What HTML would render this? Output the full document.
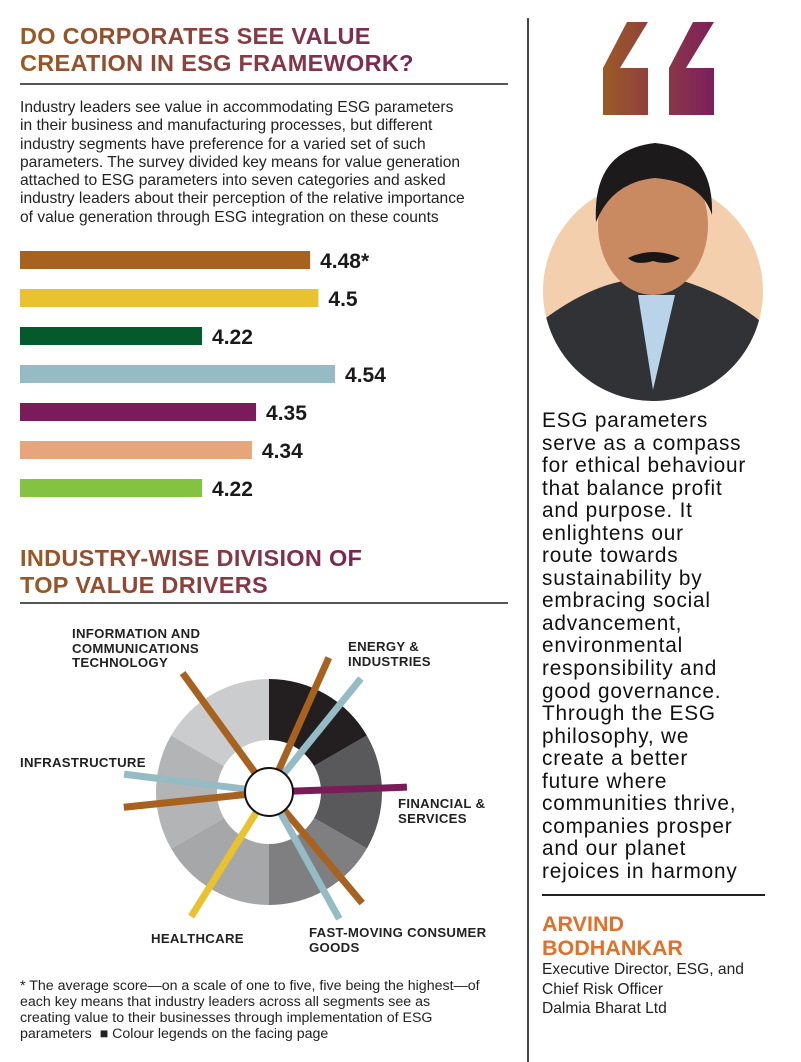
<!DOCTYPE html>
<html><head><meta charset="utf-8">
<style>
body{margin:0;width:801px;height:1062px;background:#fff;position:relative;overflow:hidden;font-family:"Liberation Sans",sans-serif;color:#1a1a1a}
.abs{position:absolute;white-space:nowrap}
.title{font-weight:bold;font-size:23.5px;line-height:27px;letter-spacing:0.3px;background:linear-gradient(90deg,#9a5a22,#7a2458);-webkit-background-clip:text;background-clip:text;color:transparent}
.para{font-size:15.6px;line-height:18.3px;color:#222}
.lab{font-weight:bold;font-size:13.2px;line-height:14.5px;letter-spacing:0.3px;color:#222}
.quote{font-size:20.8px;line-height:22.55px;color:#111;letter-spacing:0.8px}
</style></head><body>
<div class="abs title" style="left:20px;top:23px">DO CORPORATES SEE VALUE<br>CREATION IN ESG FRAMEWORK?</div>
<div class="abs" style="left:20px;top:83px;width:488px;height:2px;background:#555"></div>
<div class="abs para" style="left:20px;top:99px">Industry leaders see value in accommodating ESG parameters<br>in their business and manufacturing processes, but different<br>industry segments have preference for a varied set of such<br>parameters. The survey divided key means for value generation<br>attached to ESG parameters into seven categories and asked<br>industry leaders about their perception of the relative importance<br>of value generation through ESG integration on these counts</div>

<svg class="abs" style="left:0;top:0" width="527" height="1062" id="charts">
<g id="bars"></g>
<g id="donut"></g>
</svg>

<div class="abs title" style="left:20px;top:545px">INDUSTRY-WISE DIVISION OF<br>TOP VALUE DRIVERS</div>
<div class="abs" style="left:20px;top:602px;width:488px;height:2px;background:#555"></div>

<div class="abs lab" style="left:72px;top:627px">INFORMATION AND<br>COMMUNICATIONS<br>TECHNOLOGY</div>
<div class="abs lab" style="left:348px;top:640px">ENERGY &amp;<br>INDUSTRIES</div>
<div class="abs lab" style="left:20px;top:756px">INFRASTRUCTURE</div>
<div class="abs lab" style="left:398px;top:797px">FINANCIAL &amp;<br>SERVICES</div>
<div class="abs lab" style="left:151px;top:932px">HEALTHCARE</div>
<div class="abs lab" style="left:309px;top:926px">FAST-MOVING CONSUMER<br>GOODS</div>

<div class="abs" style="left:20px;top:978px;font-size:14.2px;line-height:16px;color:#222">* The average score—on a scale of one to five, five being the highest—of<br>each key means that industry leaders across all segments see as<br>creating value to their businesses through implementation of ESG<br>parameters &nbsp;■ Colour legends on the facing page</div>

<div class="abs" style="left:527px;top:18px;width:1.5px;height:1044px;background:#444"></div>

<svg class="abs" style="left:530px;top:0" width="271" height="410">
<defs><linearGradient id="qg" gradientUnits="userSpaceOnUse" x1="73" x2="185" y1="0" y2="0"><stop offset="0" stop-color="#9c5a26"/><stop offset="1" stop-color="#7d1e5e"/></linearGradient>
<clipPath id="cc"><circle cx="123" cy="291" r="110"/></clipPath></defs>
<g fill="url(#qg)">
<polygon points="73,115 73,68 97,22 118,22 90,68 118,68 118,115"/>
<polygon points="139,115 139,68 163,22 184,22 156,68 184,68 184,115"/>
</g>
<g>
<circle cx="123" cy="291" r="110" fill="#f3cfae"/>
<g clip-path="url(#cc)">
<path d="M13,320 Q60,285 100,280 L150,280 Q200,295 235,325 L240,410 L10,410Z" fill="#303236"/>
<path d="M108,295 L123,390 L145,295Z" fill="#b9d3e8"/>
</g>
<ellipse cx="123" cy="225" rx="55" ry="70" fill="#c98a62"/>
<path d="M66,222 Q62,150 125,143 Q184,148 182,215 Q172,182 125,178 Q82,182 66,222Z" fill="#1c1a1a"/>
<path d="M98,258 Q123,246 150,258 Q140,266 123,261 Q106,266 98,258Z" fill="#1a1515"/>
</g>
</svg>

<div class="abs quote" style="left:542px;top:410px">ESG parameters<br>serve as a compass<br>for ethical behaviour<br>that balance profit<br>and purpose. It<br>enlightens our<br>route towards<br>sustainability by<br>embracing social<br>advancement,<br>environmental<br>responsibility and<br>good governance.<br>Through the ESG<br>philosophy, we<br>create a better<br>future where<br>communities thrive,<br>companies prosper<br>and our planet<br>rejoices in harmony</div>
<div class="abs" style="left:542px;top:894px;width:223px;height:1.5px;background:#222"></div>
<div class="abs" style="left:542px;top:912px;font-weight:bold;font-size:21.5px;line-height:24px;color:#e0702a">ARVIND<br>BODHANKAR</div>
<div class="abs" style="left:542px;top:960px;font-size:15.6px;line-height:19.5px;color:#222">Executive Director, ESG, and<br>Chief Risk Officer<br>Dalmia Bharat Ltd</div>

<script>
const barValues=[4.48,4.5,4.22,4.54,4.35,4.34,4.22];
const barLabels=["4.48*","4.5","4.22","4.54","4.35","4.34","4.22"];
const barColors=["#a8621f","#e9c22f","#045a2a","#95bbc5","#7a1c5a","#e6a57a","#84c341"];
const segShades=["#231f20","#59595b","#7f7f81","#a6a7a9","#b3b4b6","#cbcccd"];
const spokeAngles=[-126,-66,-51,-2,50,61,122,-173,174];
const spokeLengths=[147,147,146,138,145,145,147,146,146];
const spokeColors=["#a8621f","#a8621f","#95bbc5","#7a1c5a","#a8621f","#95bbc5","#e9c22f","#95bbc5","#a8621f"];

const NS="http://www.w3.org/2000/svg";
function mk(t,a,p){const e=document.createElementNS(NS,t);for(const k in a)e.setAttribute(k,a[k]);p.appendChild(e);return e;}
const x=v=>20+(v-3.782)*415.6;
const yb=i=>251+i*38;
const bars=document.getElementById('bars');
barValues.forEach((v,i)=>{
 const r=mk('rect',{x:20,y:yb(i),width:x(v)-20,height:18,fill:barColors[i]},bars);
 
 
 const t=mk('text',{x:x(v)+10,y:yb(i)+17,'font-size':21,'font-weight':'bold','font-family':'Liberation Sans, sans-serif',fill:'#1a1a1a'},bars);
 t.textContent=barLabels[i];
 
 
});
const d=document.getElementById('donut');
const cx=269,cy=792,ro=113,ri=52;
const pt=(a,r)=>[cx+r*Math.sin(a*Math.PI/180),cy-r*Math.cos(a*Math.PI/180)];
segShades.forEach((c,i)=>{
 const a0=i*60,a1=a0+60;
 const [x0,y0]=pt(a0,ro),[x1,y1]=pt(a1,ro),[x2,y2]=pt(a1,ri),[x3,y3]=pt(a0,ri);
 const p=mk('path',{d:`M${x0},${y0}A${ro},${ro} 0 0 1 ${x1},${y1}L${x2},${y2}A${ri},${ri} 0 0 0 ${x3},${y3}Z`,fill:c},d);
 
 
});
spokeAngles.forEach((a,i)=>{
 const rad=a*Math.PI/180,L=spokeLengths[i];
 const l=mk('line',{x1:cx+20*Math.cos(rad),y1:cy+20*Math.sin(rad),x2:cx+L*Math.cos(rad),y2:cy+L*Math.sin(rad),stroke:spokeColors[i],'stroke-width':7},d);
 
 
});
const hub=mk('circle',{cx:cx,cy:cy,r:24,fill:'#fff',stroke:'#111','stroke-width':2},d);


</script>
</body></html>
